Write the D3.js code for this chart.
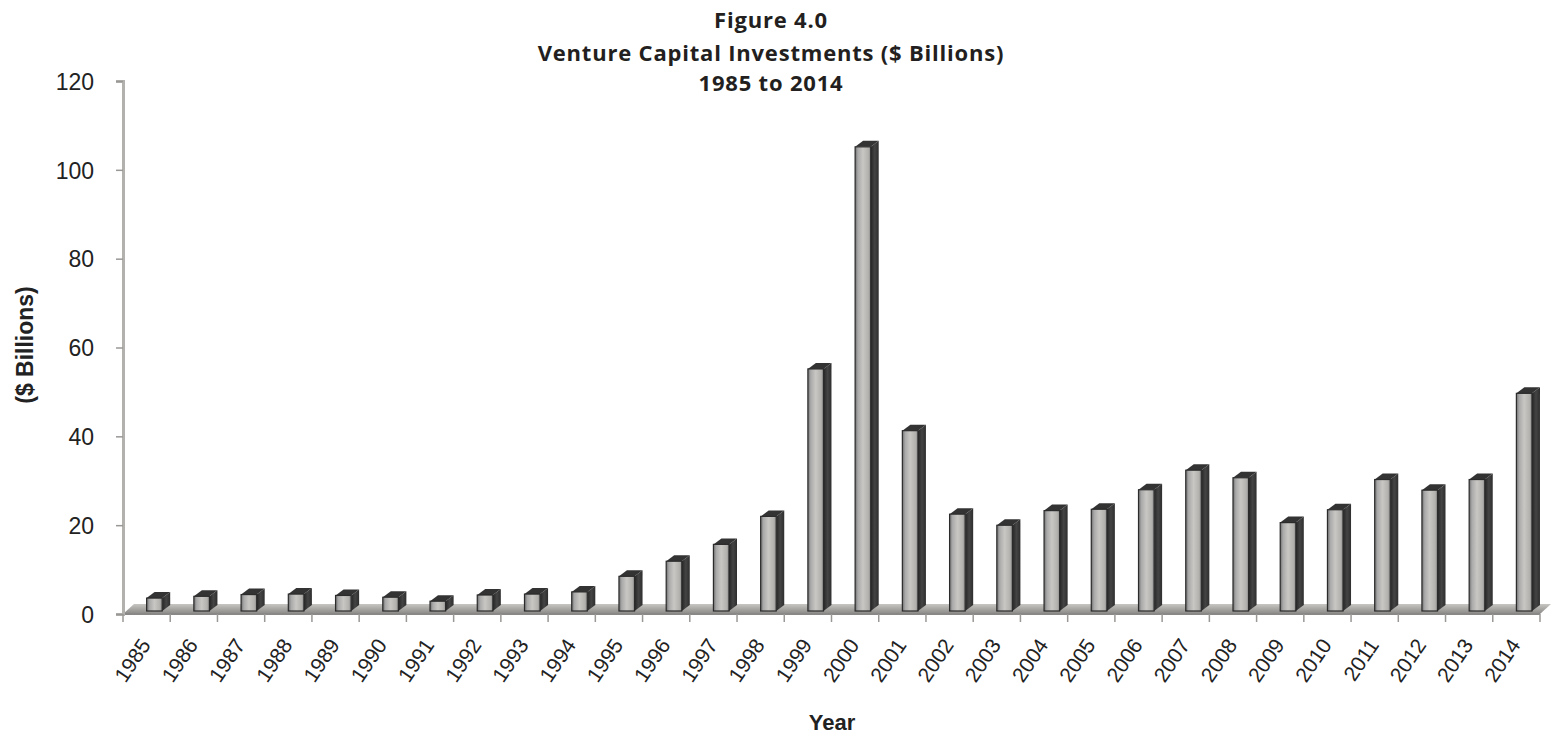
<!DOCTYPE html>
<html>
<head>
<meta charset="utf-8">
<script src="https://cdn.jsdelivr.net/npm/d3@7"></script>
<style>
  html, body { margin: 0; padding: 0; background: #ffffff; }
  svg { display: block; }
</style>
</head>
<body>
<svg id="chart" width="1551" height="738"></svg>
<script>
// Venture capital investments by year, $ billions
const years = ["1985","1986","1987","1988","1989","1990","1991","1992","1993","1994",
               "1995","1996","1997","1998","1999","2000","2001","2002","2003","2004",
               "2005","2006","2007","2008","2009","2010","2011","2012","2013","2014"];
const investments = [2.9, 3.3, 3.7, 3.8, 3.5, 3.1, 2.2, 3.6, 3.8, 4.3,
                     7.8, 11.2, 15.0, 21.3, 54.5, 104.5, 40.6, 21.8, 19.3, 22.6,
                     22.9, 27.3, 31.7, 30.0, 19.9, 22.8, 29.6, 27.2, 29.6, 49.0];
const yTicks = [0, 20, 40, 60, 80, 100, 120];
const titleLines = ["Figure 4.0", "Venture Capital Investments ($ Billions)", "1985 to 2014"];

const svg = d3.select("#chart");
const plot = { left: 123, right: 1540, top: 81, bottom: 614 };

// pseudo-3D depth of the bars and floor
const depthX = 8, depthY = 6;

const x = d3.scaleBand().domain(years).range([plot.left, plot.right]).paddingInner(0).paddingOuter(0);
const y = d3.scaleLinear().domain([0, 120]).range([plot.bottom, plot.top]);

const defs = svg.append("defs");
const frontGrad = defs.append("linearGradient").attr("id", "frontGrad")
  .attr("x1", "0%").attr("x2", "100%").attr("y1", "0%").attr("y2", "0%");
[["0%", "#6f6f6f"], ["18%", "#a9a9a9"], ["50%", "#c9c7c4"], ["85%", "#b3b1ae"], ["100%", "#8c8c8c"]]
  .forEach(([o, c]) => frontGrad.append("stop").attr("offset", o).attr("stop-color", c));
const sideGrad = defs.append("linearGradient").attr("id", "sideGrad")
  .attr("x1", "0%").attr("x2", "100%").attr("y1", "0%").attr("y2", "0%");
[["0%", "#262626"], ["50%", "#444444"], ["100%", "#2e2e2e"]]
  .forEach(([o, c]) => sideGrad.append("stop").attr("offset", o).attr("stop-color", c));
const floorGrad = defs.append("linearGradient").attr("id", "floorGrad")
  .attr("x1", "0%").attr("x2", "0%").attr("y1", "0%").attr("y2", "100%");
[["0%", "#c8c6c3"], ["55%", "#a6a4a1"], ["100%", "#8a8886"]]
  .forEach(([o, c]) => floorGrad.append("stop").attr("offset", o).attr("stop-color", c));

// floor slab
const fl = plot.left, fr = plot.right, fb = plot.bottom;
svg.append("path")
  .attr("d", `M${fl},${fb} L${fr},${fb} L${fr + 11},${fb - 10} L${fl + 11},${fb - 10} Z`)
  .attr("fill", "url(#floorGrad)");
svg.append("line")
  .attr("x1", fl).attr("x2", fr).attr("y1", fb).attr("y2", fb)
  .attr("stroke", "#8a8886").attr("stroke-width", 2);

// y axis wall line and ticks
const yAxis = d3.axisLeft(y).tickValues(yTicks).tickSize(7).tickPadding(22);
const yG = svg.append("g").attr("transform", `translate(${plot.left},0)`).call(yAxis);
yG.select(".domain").attr("stroke", "#b3b1ae").attr("stroke-width", 3);
yG.selectAll(".tick line").attr("stroke", "#9a9896").attr("stroke-width", 1.5);
yG.selectAll(".tick text")
  .attr("font-family", "'Liberation Sans', Arial, sans-serif")
  .attr("font-size", 23).attr("fill", "#222")
  .attr("dy", "0.36em");

// x axis ticks and rotated year labels
const xAxis = d3.axisBottom(x).tickSize(0).tickPadding(0);
const xG = svg.append("g").attr("transform", `translate(0,${plot.bottom})`).call(xAxis);
xG.select(".domain").remove();
const edges = years.map(d => x(d)).concat([plot.right]);
svg.append("g").selectAll("line").data(edges).join("line")
  .attr("x1", d => d).attr("x2", d => d)
  .attr("y1", plot.bottom).attr("y2", plot.bottom + 8)
  .attr("stroke", "#9a9896").attr("stroke-width", 1.5);
xG.selectAll(".tick text")
  .attr("font-family", "'Liberation Sans', Arial, sans-serif")
  .attr("font-size", 21).attr("fill", "#222")
  .attr("text-anchor", "end")
  .attr("dy", 0)
  .attr("transform", "translate(5,31) rotate(-56)");

// bars: front face, right side face, top cap
const bw = x.bandwidth();
const bars = svg.append("g").selectAll("g")
  .data(years.map((d, i) => ({ year: d, v: investments[i] }))).join("g");
const fx0 = d => x(d.year) + bw * 0.5;
const fx1 = d => x(d.year) + bw * 0.83;
const barBase = plot.bottom - 3;
const barTop = d => y(d.v) - 3;

bars.append("path")
  .attr("d", d => `M${fx1(d)},${barBase} L${fx1(d)},${barTop(d)} L${fx1(d) + depthX},${barTop(d) - depthY} L${fx1(d) + depthX},${barBase - depthY} Z`)
  .attr("fill", "url(#sideGrad)");
bars.append("path")
  .attr("d", d => `M${fx0(d)},${barTop(d)} L${fx1(d)},${barTop(d)} L${fx1(d) + depthX},${barTop(d) - depthY} L${fx0(d) + depthX},${barTop(d) - depthY} Z`)
  .attr("fill", "#333333");
bars.append("rect")
  .attr("x", d => fx0(d)).attr("y", d => barTop(d))
  .attr("width", d => fx1(d) - fx0(d)).attr("height", d => barBase - barTop(d))
  .attr("fill", "url(#frontGrad)")
  .attr("stroke", "#2b2b2b").attr("stroke-width", 1.2);

// titles
const title = svg.append("g").attr("font-family", "'Open Sans', sans-serif")
  .attr("font-weight", 700).attr("font-size", 22).attr("fill", "#231f20")
  .attr("letter-spacing", 0.8)
  .attr("text-anchor", "middle");
const titleY = [28, 61, 91];
titleLines.forEach((t, i) => {
  title.append("text").attr("x", 771).attr("y", titleY[i]).text(t);
});

svg.append("text")
  .attr("transform", "translate(33,345) rotate(-90)")
  .attr("text-anchor", "middle")
  .attr("font-family", "'Liberation Sans', Arial, sans-serif")
  .attr("font-weight", 700).attr("font-size", 23).attr("fill", "#222")
  .text("($ Billions)");

svg.append("text")
  .attr("x", 832).attr("y", 730)
  .attr("text-anchor", "middle")
  .attr("font-family", "'Liberation Sans', Arial, sans-serif")
  .attr("font-weight", 700).attr("font-size", 22).attr("fill", "#222")
  .text("Year");
</script>
</body>
</html>
